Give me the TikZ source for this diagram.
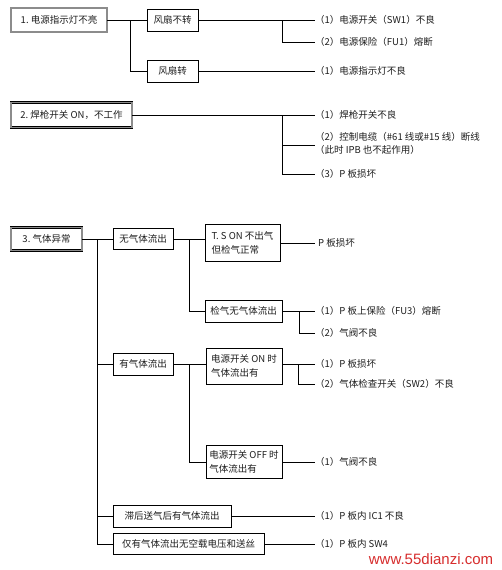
\documentclass[tikz,border=0pt]{standalone}
\usepackage{fontspec}
\setmainfont{Noto Sans CJK SC}
\newfontfamily\wmfont{Liberation Sans}
\definecolor{wmred}{RGB}{215,45,45}
\definecolor{txt}{RGB}{30,30,30}
\begin{document}
\begin{tikzpicture}[x=1pt,y=-1pt,
  every node/.style={font=\fontsize{9.5}{14}\selectfont, text=txt},
  conn/.style={draw=black, line width=0.8pt},
  mainbox/.style={draw=black, line width=0.6pt, double=black!45, double distance=1.6pt, inner sep=2pt},
  tbox/.style={draw=black, line width=0.9pt, inner sep=3pt},
  item/.style={anchor=west, inner sep=0pt}]
\fill[white] (0,0) rectangle (501,570);
\useasboundingbox (0,0) rectangle (501,570);

% ---------- section 1 ----------
\node[mainbox, minimum width=96pt, minimum height=24pt] (m1) at (59,20) {1.\ 电源指示灯不亮};
\node[tbox, minimum width=51pt, minimum height=22pt] (a1) at (172.5,20) {风扇不转};
\node[tbox, minimum width=51pt, minimum height=22pt] (a2) at (172.5,71) {风扇转};
\node[item] (i11) at (315,20) {（1）电源开关（SW1）不良};
\node[item] (i12) at (315,42) {（2）电源保险（FU1）熔断};
\node[item] (i13) at (315,71) {（1）电源指示灯不良};
\coordinate (j1) at (130,20);
\coordinate (j2) at (282,20);
\draw[conn] (m1.east) -- (a1.west);
\draw[conn] (j1) |- (a2.west);
\draw[conn] (a1.east) -- (i11.west);
\draw[conn] (j2) |- (i12.west);
\draw[conn] (a2.east) -- (i13.west);

% ---------- section 2 ----------
\node[mainbox, minimum width=121pt, minimum height=25pt] (m2) at (71.5,115) {2.\ 焊枪开关 ON，不工作};
\node[item] (i21) at (315,115) {（1）焊枪开关不良};
\node[item] (i22) at (315,137) {（2）控制电缆（\#61 线或\#15 线）断线};
\node[item] (i22b) at (315,150) {（此时 IPB 也不起作用）};
\node[item] (i23) at (315,174) {（3）P 板损坏};
\coordinate (j3) at (282,115);
\coordinate (s22) at (315,145);
\draw[conn] (m2.east) -- (i21.west);
\draw[conn] (j3) |- (s22);
\draw[conn] (j3) |- (i23.west);

% ---------- section 3 ----------
\node[mainbox, minimum width=71pt, minimum height=23pt] (m3) at (46.5,239) {3.\ 气体异常};
\node[tbox, minimum width=60pt, minimum height=21pt] (b1) at (143,239) {无气体流出};
\node[tbox, minimum width=75pt, minimum height=37pt, align=left] (c1) at (242.5,243) {T.\ S ON 不出气\\但检气正常};
\node[item, inner xsep=3pt] (d1) at (315,243) {P 板损坏};
\node[tbox, minimum width=77pt, minimum height=22pt] (c2) at (243.5,311) {检气无气体流出};
\node[item] (d2) at (315,311) {（1）P 板上保险（FU3）熔断};
\node[item] (d3) at (315,333) {（2）气阀不良};
\node[tbox, minimum width=60pt, minimum height=22pt] (b2) at (143,364) {有气体流出};
\node[tbox, minimum width=76pt, minimum height=36pt, align=left] (c3) at (244,366) {电源开关 ON 时\\气体流出有};
\node[item] (d4) at (315,364) {（1）P 板损坏};
\node[item] (d5) at (315,384) {（2）气体检查开关（SW2）不良};
\node[tbox, minimum width=76pt, minimum height=33pt, align=left] (c4) at (244,462) {电源开关 OFF 时\\气体流出有};
\node[item] (d6) at (315,462) {（1）气阀不良};
\node[tbox, minimum width=118pt, minimum height=22pt] (b3) at (172,516) {滞后送气后有气体流出};
\node[item] (d7) at (315,516) {（1）P 板内 IC1 不良};
\node[tbox, minimum width=151pt, minimum height=21pt] (b4) at (188.5,544) {仅有气体流出无空载电压和送丝};
\node[item] (d8) at (315,544) {（1）P 板内 SW4};

\coordinate (k1) at (97,239);
\coordinate (k2) at (189,239);
\coordinate (k3) at (299,311);
\coordinate (k4) at (189,364);
\coordinate (k5) at (298,364);
\draw[conn] (m3.east) -- (b1.west);
\draw[conn] (k1) |- (b2.west);
\draw[conn] (k1) |- (b3.west);
\draw[conn] (k1) |- (b4.west);
\draw[conn] (b1.east) -- (b1.east -| c1.west);
\draw[conn] (k2) |- (c2.west);
\draw[conn] (c1.east) -- (d1.west);
\draw[conn] (c2.east) -- (d2.west);
\draw[conn] (k3) |- (d3.west);
\draw[conn] (b2.east) -- (b2.east -| c3.west);
\draw[conn] (k4) |- (c4.west);
\draw[conn] (c3.east |- d4.west) -- (d4.west);
\draw[conn] (k5) |- (d5.west);
\draw[conn] (c4.east) -- (d6.west);
\draw[conn] (b3.east) -- (d7.west);
\draw[conn] (b4.east) -- (d8.west);

% watermark
\node[font=\wmfont\fontsize{15}{15}\selectfont, text=wmred, inner sep=0pt] (wm) at (431,559) {www.55dianzi.com};
\end{tikzpicture}
\end{document}
